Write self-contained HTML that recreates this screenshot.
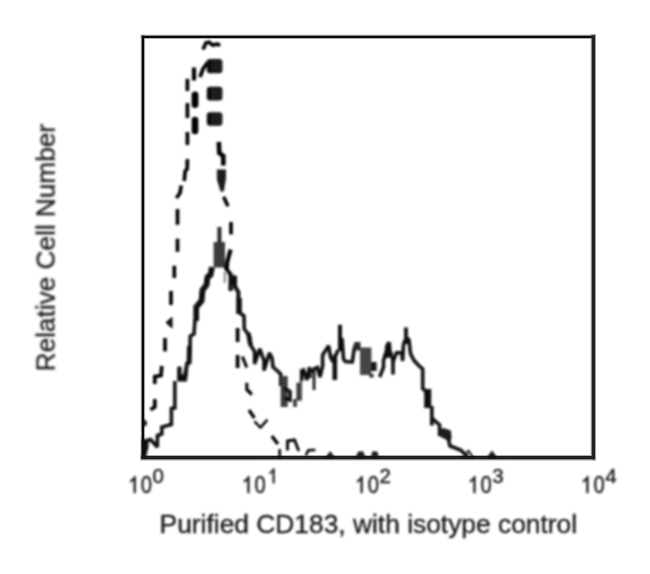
<!DOCTYPE html>
<html><head><meta charset="utf-8">
<style>
html,body{margin:0;padding:0;background:#fff;}
body{width:650px;height:574px;overflow:hidden;position:relative;font-family:"Liberation Sans",sans-serif;}
svg{position:absolute;left:0;top:0;}
text{font-family:"Liberation Sans",sans-serif;fill:#1c1c1c;}
</style></head><body>
<svg width="650" height="574" viewBox="0 0 650 574">
<defs>
<filter id="b" x="-5%" y="-5%" width="110%" height="110%"><feGaussianBlur stdDeviation="0.95"/></filter>
<filter id="bt" x="-5%" y="-5%" width="110%" height="110%"><feGaussianBlur stdDeviation="0.8"/></filter>
</defs>
<rect width="650" height="574" fill="#fff"/>
<!-- frame -->
<g id="frame" fill="none" stroke="#0a0a0a" stroke-linecap="square">
<g opacity="0.33">
<line x1="142.9" y1="36.8" x2="142.9" y2="457.7" stroke-width="4.3"/>
<line x1="142.9" y1="36.8" x2="593.4" y2="36.8" stroke-width="4.3"/>
<line x1="593.4" y1="36.8" x2="593.4" y2="457.7" stroke-width="5.4"/>
<line x1="142.9" y1="457.7" x2="593.4" y2="457.7" stroke-width="5.4"/>
</g>
<line x1="142.9" y1="36.8" x2="142.9" y2="457.7" stroke-width="2.3"/>
<line x1="142.9" y1="36.8" x2="593.4" y2="36.8" stroke-width="2.3"/>
<line x1="593.4" y1="36.8" x2="593.4" y2="457.7" stroke-width="3.3" stroke="#202020"/>
<line x1="142.9" y1="457.7" x2="593.4" y2="457.7" stroke-width="3.3" stroke="#202020"/>
</g>
<g filter="url(#b)">
<!-- SOLID -->
<g id="solid" fill="none" stroke="#080808" stroke-width="3.5" stroke-linejoin="miter" stroke-miterlimit="1.8" stroke-linecap="butt">
<!-- left foot -->
<polyline points="144,441.5 150.5,439.5 157.4,447 157.4,435.5 161.8,434 161.8,427 171.4,424.4 171.4,408.5 174.8,408 174.8,381"/>
<!-- blob -->
<path d="M177.8,381 L177.8,367 L181,367 L181,375 L183.5,375 L186,362 L188.5,362 L186.5,381 Z" fill="#0c0c0c" stroke-width="1"/>
<polyline points="186.5,364 189.6,362.7 190.3,336 194,334 195,319"/>
<polyline points="189.3,346 189,363" stroke-width="4.6"/>
<polyline points="196.2,321 196.2,305" stroke-width="5.6"/>
<polyline points="212,267 210.5,275 207.5,277 206.5,285 202.5,290 201.5,301 197,306" stroke-width="5.8" stroke-linejoin="round"/>
<!-- peak -->
<rect x="213.6" y="242" width="11.4" height="25.5" fill="#3a3a3a" stroke="none"/>
<rect x="217.4" y="227" width="4" height="17" fill="#2a2a2a" stroke="none"/>
<line x1="224.8" y1="272" x2="224.8" y2="283" stroke="#999" stroke-width="2.5"/>
<!-- right arm -->
<polyline points="225.5,266 227,270 230.6,274.5 230.6,291" stroke-width="4.2"/>
<polyline points="230.6,284 235,276 235,286.7 238.4,292 238.4,300" stroke-width="4"/>
<polyline points="239,298 239,314" stroke-width="5.5"/>
<polyline points="240,313 244,316 244.3,329 249.4,335.7 251,346 254.6,351.4 254.6,364 259.8,348.7 262.5,356.6 264,360 264,370.5 269.4,353 272,358 273,367 277,370.5 280.7,374 280.7,386"/>
<polyline points="248.3,333 250.5,345" stroke-width="4.5"/>
<rect x="280.7" y="376" width="7" height="31" fill="#3c3c3c" stroke="none"/>
<polyline points="284,388 290,391.4 290,400 284,398"/>
<rect x="293" y="399" width="4" height="8" fill="#444" stroke="none"/>
<rect x="296.4" y="382.7" width="5.4" height="18" fill="#3c3c3c" stroke="none"/>
<line x1="301" y1="369" x2="301" y2="400" stroke="#555" stroke-width="2.2"/>
<polyline points="301.7,381 301.7,371 303.5,370 307,380 309.5,367 310,378"/>
<polyline points="314,369 314,390" stroke-width="2.6"/>
<polyline points="311,372 314,369 317.4,367.5 320,377 322.6,366 322.6,355 328.7,345.7 330.5,357 333,362"/>
<polyline points="334.8,355 334.8,380" stroke-width="4.6"/>
<polyline points="335,357 338,350"/>
<polyline points="340,324.8 340,351" stroke-width="4"/>
<polyline points="342,338 343.5,359 345.3,361.6 352.3,362 354,350 355.7,344"/>
<rect x="354.5" y="342" width="6" height="8.5" fill="#2c2c2c" stroke="none"/>
<rect x="360" y="347.5" width="11.4" height="27.5" fill="#454545" stroke="none"/>
<rect x="371" y="362" width="5.6" height="9" fill="#151515" stroke="none"/>
<rect x="369.5" y="374" width="4" height="3.5" fill="#222" stroke="none"/>
<polyline points="379.6,377 383.5,367.5 383.5,360.5 386,352"/>
<polyline points="386.5,358 387,346.6 389,342.5 390,357" stroke-width="4"/>
<polyline points="390.5,352 393,361 393,374.5"/>
<polyline points="393,362 396.5,352.7 401.8,352.7 402.6,361 403.5,344.8 405,340"/>
<polyline points="405.9,327.4 406.1,344" stroke-width="3.8"/>
<polyline points="407,338 409,340 410.5,353.5 414,360.5 419,365.7 422.7,369 422.7,390"/>
<rect x="424.2" y="389" width="7" height="19" fill="#111" stroke="none"/>
<polyline points="422.7,388 426,392"/>
<polyline points="431.8,406 431.8,425.5" stroke-width="3.6"/>
<polyline points="431.8,418 439.6,425 439.6,436"/>
<path d="M439,430 L444,428.8 L450.5,431 L451,439 L446,439 L440,436 Z" fill="#1a1a1a" stroke-width="1"/>
<polyline points="448,437.5 450,446 460.5,450 467.5,456.6"/>
<path d="M463.5,457 L468.5,450.8 L473,457.5" stroke-width="1.8"/>
<path d="M488,457 L492,451.5 L496,457 Z" fill="#1a1a1a" stroke-width="1.2"/>
</g>
<!-- DASHED -->
<g id="dashed" fill="none" stroke="#050505" stroke-width="3.7" stroke-linecap="butt">
<!-- left axis wobble -->
<path d="M142,438.5 L148.5,440.5 L148.5,447 L147,453 L146,458 L142,458 Z" fill="#0c0c0c" stroke="none"/>
<path d="M143,419 L146.6,421 L147,425 L143,427 Z" fill="#0c0c0c" stroke="none"/>
<polyline points="154.8,399 154.8,407 150.5,409.8"/>
<polyline points="154.8,384 154.8,376.6 161,375.5 161.8,366"/>
<line x1="165" y1="338" x2="165" y2="351.4"/>
<path d="M166,322.5 L172,317.4 L172,328 Z" fill="#0c0c0c" stroke-width="1"/>
<line x1="171" y1="291" x2="171" y2="305"/>
<line x1="174.3" y1="265.7" x2="174.3" y2="278"/>
<line x1="177.5" y1="238.7" x2="177.5" y2="251.8"/>
<line x1="177.5" y1="209" x2="177.5" y2="224.8"/>
<polyline points="181.2,185.5 180,193 176.3,198"/>
<polyline points="187.4,159 187.2,169 185.2,171 184.2,181"/>
<line x1="187.4" y1="132" x2="187.4" y2="145"/>
<line x1="195" y1="120" x2="195" y2="131" stroke-width="6.6" stroke-linecap="round"/>
<line x1="187.4" y1="103" x2="187.4" y2="118"/>
<line x1="195" y1="95" x2="195" y2="104.5" stroke-width="6.8" stroke-linecap="round"/>
<line x1="187.4" y1="78.8" x2="187.4" y2="91"/>
<line x1="194" y1="67.5" x2="194" y2="80.5" stroke-width="4.2"/>
<polyline points="208,62 203,69 200,77"/>
<polyline points="203,49.5 205.8,43 209,42.3 213,45.2 217,44 220.2,45.4" stroke-width="3.6"/>
<rect x="206.8" y="59" width="15.6" height="14.2" rx="3.2" fill="#0a0a0a" stroke="none"/>
<rect x="206.8" y="86.8" width="15.6" height="13.6" rx="3.2" fill="#0a0a0a" stroke="none"/>
<rect x="206.8" y="112.2" width="15.6" height="13.6" rx="3.2" fill="#0a0a0a" stroke="none"/>
<line x1="212.6" y1="60.0" x2="212.6" y2="72.7" stroke="#444" stroke-width="0.7"/>
<line x1="215.4" y1="60.0" x2="215.4" y2="72.7" stroke="#444" stroke-width="0.7"/>
<line x1="218.2" y1="60.0" x2="218.2" y2="72.7" stroke="#444" stroke-width="0.7"/>
<line x1="220.8" y1="60.0" x2="220.8" y2="72.7" stroke="#444" stroke-width="0.7"/>
<line x1="212.6" y1="87.8" x2="212.6" y2="99.9" stroke="#444" stroke-width="0.7"/>
<line x1="215.4" y1="87.8" x2="215.4" y2="99.9" stroke="#444" stroke-width="0.7"/>
<line x1="218.2" y1="87.8" x2="218.2" y2="99.9" stroke="#444" stroke-width="0.7"/>
<line x1="220.8" y1="87.8" x2="220.8" y2="99.9" stroke="#444" stroke-width="0.7"/>
<line x1="212.6" y1="113.2" x2="212.6" y2="125.3" stroke="#444" stroke-width="0.7"/>
<line x1="215.4" y1="113.2" x2="215.4" y2="125.3" stroke="#444" stroke-width="0.7"/>
<line x1="218.2" y1="113.2" x2="218.2" y2="125.3" stroke="#444" stroke-width="0.7"/>
<line x1="220.8" y1="113.2" x2="220.8" y2="125.3" stroke="#444" stroke-width="0.7"/>
<!-- right side -->
<polyline points="218.8,141.8 219.3,153 223.3,156 223.3,165.5" stroke-width="4.6"/>
<path d="M216.8,169.6 L226,169.6 L226,178 L223.8,191.4 L220.6,191.4 L217,180 Z" fill="#1c1c1c" stroke="none"/>
<polyline points="223.6,196.7 228,206.2" stroke-width="3.6"/>
<line x1="231" y1="222" x2="231" y2="234.4"/>
<polyline points="230.6,249.5 227.2,262 226.6,269.6" stroke-width="4.2"/>
<line x1="237.6" y1="328" x2="237.6" y2="342"/>
<line x1="237.6" y1="355" x2="237.6" y2="368"/>
<polyline points="242.4,356.6 246.8,367.5" stroke-width="3"/>
<polyline points="246.8,382.7 246.8,389.7 251.2,393.2" stroke-width="3"/>
<polyline points="247.4,390 251.8,394.6" stroke-width="3"/>
<polyline points="249,410 254.4,418" stroke-width="3.2"/>
<polyline points="254.4,421.4 260.5,427.5 267.5,419.6" stroke-width="2.4"/>
<polyline points="271.8,436 277.9,444" stroke-width="3.4"/>
<line x1="279.7" y1="449" x2="279.7" y2="457.5" stroke-width="2.6"/>
<polyline points="287.5,450.5 287.5,441 294.5,439.8 298.8,451" stroke-width="2.8"/>
<polyline points="315.4,450 308.4,450.2 305.8,455.5" stroke-width="2.6"/>
<path d="M326.5,457 L330.2,451.8 L334,457 Z" fill="#1a1a1a" stroke-width="1"/>
<path d="M356.5,457 L358.5,452 L363,452 L364.5,457 Z" fill="#1a1a1a" stroke-width="1"/>
<path d="M371.8,457 L372.5,452 L377,452 L378,457 Z" fill="#1a1a1a" stroke-width="1"/>
</g>
</g>
<!-- TEXT -->
<g filter="url(#bt)" id="labels">
<path transform="translate(128.11,492.80) scale(0.00983,-0.01123)" d="M763 0H583V1147Q518 1085 412 1023Q307 961 223 930V1104Q374 1175 487 1276Q600 1377 647 1472H763Z" fill="#1c1c1c" stroke="#1c1c1c" stroke-width="50"/><text transform="translate(140.80,492.80) scale(0.875,1.000)" font-size="23.0" stroke="#1c1c1c" stroke-width="0.45">0</text><text x="152.49" y="483.2" font-size="20.5" stroke="#1c1c1c" stroke-width="0.4">0</text>
<path transform="translate(241.81,492.80) scale(0.00983,-0.01123)" d="M763 0H583V1147Q518 1085 412 1023Q307 961 223 930V1104Q374 1175 487 1276Q600 1377 647 1472H763Z" fill="#1c1c1c" stroke="#1c1c1c" stroke-width="50"/><text transform="translate(254.50,492.80) scale(0.875,1.000)" font-size="23.0" stroke="#1c1c1c" stroke-width="0.45">0</text><path transform="translate(267.59,483.2) scale(0.00901,-0.01001)" d="M763 0H583V1147Q518 1085 412 1023Q307 961 223 930V1104Q374 1175 487 1276Q600 1377 647 1472H763Z" fill="#1c1c1c" stroke="#1c1c1c" stroke-width="45"/>
<path transform="translate(355.01,492.80) scale(0.00983,-0.01123)" d="M763 0H583V1147Q518 1085 412 1023Q307 961 223 930V1104Q374 1175 487 1276Q600 1377 647 1472H763Z" fill="#1c1c1c" stroke="#1c1c1c" stroke-width="50"/><text transform="translate(367.70,492.80) scale(0.875,1.000)" font-size="23.0" stroke="#1c1c1c" stroke-width="0.45">0</text><text x="379.39" y="483.2" font-size="20.5" stroke="#1c1c1c" stroke-width="0.4">2</text>
<path transform="translate(467.81,492.80) scale(0.00983,-0.01123)" d="M763 0H583V1147Q518 1085 412 1023Q307 961 223 930V1104Q374 1175 487 1276Q600 1377 647 1472H763Z" fill="#1c1c1c" stroke="#1c1c1c" stroke-width="50"/><text transform="translate(480.50,492.80) scale(0.875,1.000)" font-size="23.0" stroke="#1c1c1c" stroke-width="0.45">0</text><text x="492.19" y="483.2" font-size="20.5" stroke="#1c1c1c" stroke-width="0.4">3</text>
<path transform="translate(580.81,492.80) scale(0.00983,-0.01123)" d="M763 0H583V1147Q518 1085 412 1023Q307 961 223 930V1104Q374 1175 487 1276Q600 1377 647 1472H763Z" fill="#1c1c1c" stroke="#1c1c1c" stroke-width="50"/><text transform="translate(593.50,492.80) scale(0.875,1.000)" font-size="23.0" stroke="#1c1c1c" stroke-width="0.45">0</text><text x="605.19" y="483.2" font-size="20.5" stroke="#1c1c1c" stroke-width="0.4">4</text>
<text x="159.6" y="533.4" font-size="26.3" textLength="417.5" lengthAdjust="spacingAndGlyphs" stroke="#1c1c1c" stroke-width="0.35">Purified CD183, with isotype control</text>
<text transform="translate(54.6,371.4) rotate(-90)" font-size="26.3" textLength="247.5" lengthAdjust="spacingAndGlyphs" stroke="#1c1c1c" stroke-width="0.35">Relative Cell Number</text>
</g>
</svg>
</body></html>
